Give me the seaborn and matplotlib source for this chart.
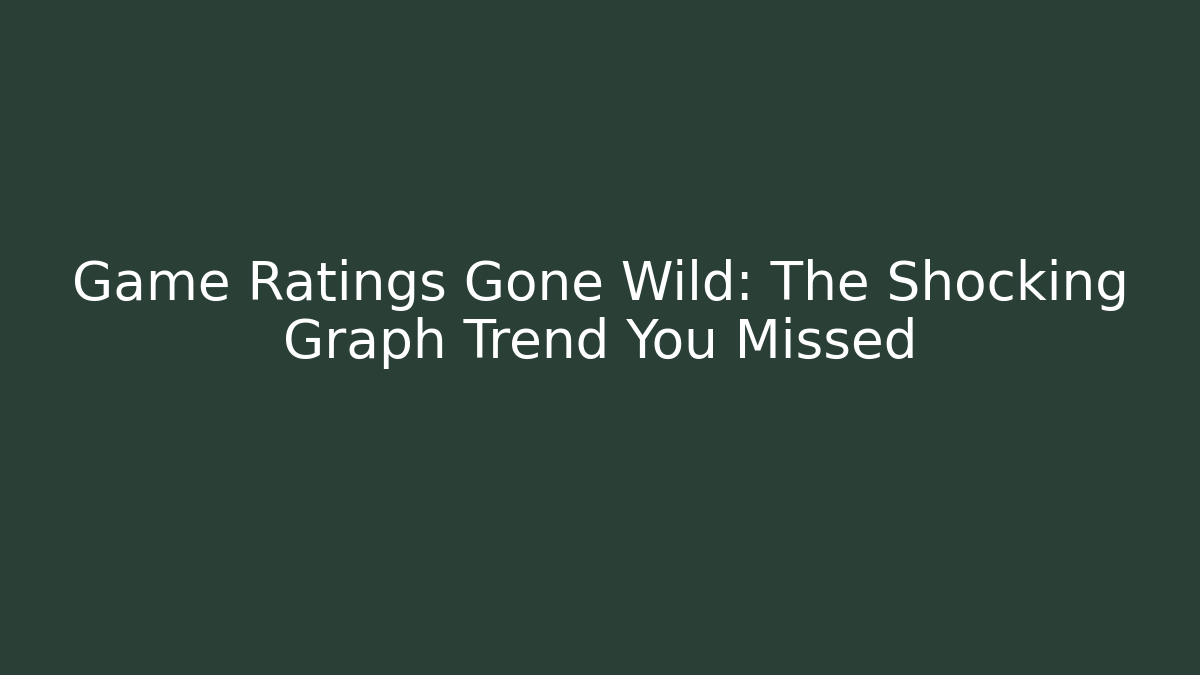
import matplotlib
matplotlib.use("Agg")
import matplotlib.pyplot as plt
import seaborn as sns

# Title card text
title_lines = ["Game Ratings Gone Wild: The Shocking", "Graph Trend You Missed"]
bg_color = "#2a4037"

sns.set_theme(style="white")
plt.rcParams['font.family'] = ['DejaVu Sans']

fig, ax = plt.subplots(figsize=(12, 6.75), dpi=100)
fig.patch.set_facecolor(bg_color)
ax.set_facecolor(bg_color)
ax.set_xlim(0, 1)
ax.set_ylim(0, 1)
ax.axis("off")

ax.text(0.5, 0.535, "\n".join(title_lines), color="white", fontsize=38.3,
        ha="center", va="center", linespacing=1.16)

fig.subplots_adjust(left=0, right=1, top=1, bottom=0)
fig.savefig("out.png", dpi=100, facecolor=bg_color)
